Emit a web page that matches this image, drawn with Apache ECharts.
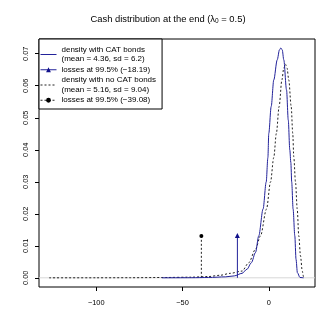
<!DOCTYPE html>
<html><head><meta charset="utf-8">
<script src="https://cdn.jsdelivr.net/npm/echarts@6/dist/echarts.min.js"></script>
<style>html,body{margin:0;padding:0;background:#fff}#c{width:336px;height:336px}</style>
</head><body><div id="c"></div>
<script>
// Density with CAT bonds
const catX = [-62.0,-45,-35,-25,-20,-15.5,-12.6,-10.1,-7.7,-5.8,-3.3,-1.5,-0.5,0.0,1.4,2.9,4.9,6.2,7.0,7.8,8.7,10.3,11.3,12.2,12.8,13.3,14.1,15.1,15.8,16.6,18.1,20.2];
const catY = [0,0.00003,0.0001,0.0003,0.0006,0.0014,0.0027,0.0047,0.0079,0.0131,0.0215,0.0299,0.0376,0.0451,0.0535,0.0618,0.0681,0.0712,0.0718,0.0712,0.0681,0.0587,0.0493,0.0399,0.0360,0.0299,0.0215,0.0131,0.0058,0.0016,0.0001,0];
// Density without CAT bonds
const noCatX = [-127.3,-100,-80,-60,-45,-35,-28.1,-22.3,-15.5,-11.6,-7.7,-4.8,-1.3,1.0,2.9,4.4,6.0,7.6,8.7,9.7,10.6,11.6,13.0,13.9,14.5,15.5,16.5,17.4,18.4,19.4,20.2,20.9];
const noCatY = [0,0.00001,0.00003,0.0001,0.0002,0.0004,0.0008,0.0014,0.0021,0.0047,0.0089,0.0131,0.0215,0.0299,0.0376,0.0451,0.0535,0.0618,0.0655,0.0667,0.0655,0.0618,0.0535,0.0451,0.0378,0.0299,0.0215,0.0131,0.0068,0.0021,0.0003,0];
// 99.5% losses
const lossX = [-18.19, -39.08];
const lossH = [0.0132, 0.0131];
// Tick labels
const xTicks = [-100, -50, 0];
const yTicks = [0, 0.01, 0.02, 0.03, 0.04, 0.05, 0.06, 0.07];
const legendNames = ['cat', 'catLoss', 'nocat', 'nocatLoss'];
const legendLabels = [
  'density with CAT bonds\n(mean = 4.36, sd = 6.2)',
  'losses at 99.5% (\u221218.19)',
  'density with no CAT bonds\n(mean = 5.16, sd = 9.04)',
  'losses at 99.5% (\u221239.08)'
];
const titleText = '{a|Cash distribution at the end (\u03bb}{s|0}{a| = 0.5)}';

const pair = (xs, ys) => xs.map((x, i) => [x, ys[i]]);
const xMin = -133.2, xMax = 26.8, yMin = -0.00287, yMax = 0.0746;
const font = 'Liberation Sans, Arial, Helvetica, sans-serif';
const blue = '#22229a';
const dark = '#222222';

const chart = echarts.init(document.getElementById('c'), null, {renderer: 'canvas'});
chart.setOption({
  animation: false,
  backgroundColor: '#ffffff',
  textStyle: {fontFamily: font},
  title: {
    text: titleText,
    left: 'center',
    top: 13,
    padding: [0, 0, 0, 19],
    textStyle: {
      fontWeight: 'normal',
      rich: {
        a: {fontSize: 9.4, fontFamily: font, fontWeight: 'normal', color: '#000', lineHeight: 12, verticalAlign: 'middle'},
        s: {fontSize: 6.5, fontFamily: font, fontWeight: 'normal', color: '#000', lineHeight: 7, verticalAlign: 'bottom'}
      }
    }
  },
  grid: {left: 39, right: 21, top: 39, bottom: 49, show: true, borderColor: '#000', borderWidth: 1, backgroundColor: 'transparent'},
  legend: {
    data: [
      {name: 'cat', itemStyle: {opacity: 0}, lineStyle: {color: blue, width: 1}},
      {name: 'catLoss', lineStyle: {color: blue, width: 1}},
      {name: 'nocat', itemStyle: {opacity: 0}, lineStyle: {color: dark, width: 1, type: [2, 2]}},
      {name: 'nocatLoss', lineStyle: {color: dark, width: 1, type: [2, 2]}}
    ],
    orient: 'vertical',
    left: 39, top: 39,
    width: 122,
    padding: [6, 6, 4, 1],
    itemGap: 1,
    itemWidth: 16, itemHeight: 6,
    borderColor: '#000', borderWidth: 1,
    backgroundColor: '#fff',
    formatter: n => legendLabels[legendNames.indexOf(n)],
    textStyle: {fontSize: 8, lineHeight: 9.5, color: '#000', fontFamily: font},
    selectedMode: false
  },
  xAxis: {
    type: 'value', min: xMin, max: xMax,
    axisLine: {show: false, onZero: false},
    splitLine: {show: false},
    axisTick: {show: true, customValues: xTicks, length: 4, lineStyle: {color: '#000'}},
    axisLabel: {customValues: xTicks, fontSize: 7.4, color: '#000', margin: 12, fontFamily: font,
      formatter: v => String(v).replace('-', '\u2212')}
  },
  yAxis: {
    type: 'value', min: yMin, max: yMax,
    axisLine: {show: false, onZero: false},
    splitLine: {show: false},
    axisTick: {show: true, customValues: yTicks, length: 4, lineStyle: {color: '#000'}},
    axisLabel: {customValues: yTicks, fontSize: 7.4, color: '#000', margin: 10, rotate: 90, fontFamily: font,
      formatter: v => v.toFixed(2)}
  },
  series: [
    {name: 'zero', type: 'line', data: [[xMin, 0], [xMax, 0]], symbol: 'none', silent: true,
      lineStyle: {color: '#d8d8d8', width: 1}, z: 1},
    {name: 'cat', type: 'line', data: pair(catX, catY), symbol: 'none', smooth: 0.3, smoothMonotone: 'x',
      lineStyle: {color: blue, width: 1}, itemStyle: {color: blue}, z: 3},
    {name: 'catLoss', type: 'line', symbol: 'triangle', symbolSize: 5,
      data: [{value: [lossX[0], 0], symbol: 'none'}, {value: [lossX[0], lossH[0]]}],
      lineStyle: {color: blue, width: 1}, itemStyle: {color: '#11118b'}, z: 3},
    {name: 'nocat', type: 'line', data: pair(noCatX, noCatY), symbol: 'none', smooth: 0.3, smoothMonotone: 'x',
      lineStyle: {color: dark, width: 1, type: [2, 2]}, itemStyle: {color: dark}, z: 2},
    {name: 'nocatLoss', type: 'line', symbol: 'circle', symbolSize: 4,
      data: [{value: [lossX[1], 0], symbol: 'none'}, {value: [lossX[1], lossH[1]]}],
      lineStyle: {color: dark, width: 1, type: [2, 2]}, itemStyle: {color: '#000'}, z: 2}
  ]
});
</script>
</body></html>
